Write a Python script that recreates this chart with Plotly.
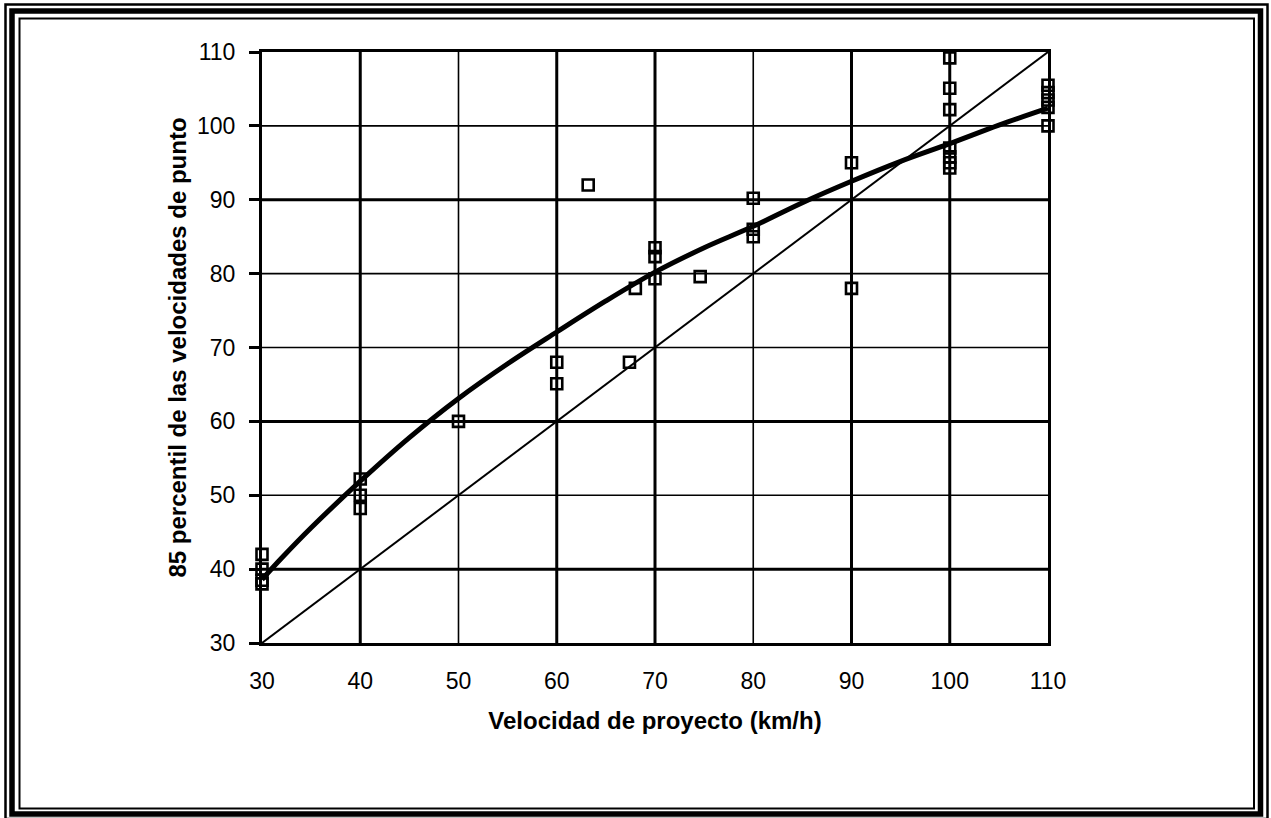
import plotly.graph_objects as go

# ---- data ----
obs_x = [30, 30, 30, 30, 40, 40, 40, 50, 60, 60, 63.2, 67.4, 68, 70, 70, 70,
         74.6, 80, 80, 80, 90, 90, 100, 100, 100, 100, 100, 100, 100,
         110, 110, 110, 110, 110]
obs_y = [42, 40, 38.5, 38, 52.2, 50, 48.2, 60, 68, 65.1, 92, 68, 78, 83.5, 82.3, 79.3,
         79.6, 90.2, 86, 85, 95, 78, 109.2, 105.1, 102.2, 97, 95.8, 95, 94.3,
         105.5, 104.5, 103.5, 102.5, 100]

fit_x = [30, 32, 35, 40, 45, 50, 55, 60, 65, 70, 75, 80, 85, 90, 95, 100, 105, 110]
fit_y = [38.6, 41.5, 45.6, 51.9, 57.8, 63.1, 67.8, 72.1, 76.3, 80.2, 83.5, 86.4,
         89.6, 92.5, 95.2, 97.6, 100.1, 102.4]

ident_x = [30, 110]
ident_y = [30, 110]

x_ticks = [30, 40, 50, 60, 70, 80, 90, 100, 110]
y_ticks = [30, 40, 50, 60, 70, 80, 90, 100, 110]

x_title = "Velocidad de proyecto (km/h)"
y_title = "85 percentil de las velocidades de punto"

# ---- styling ----
FONT = "Arial, Liberation Sans, sans-serif"
W, H = 1271, 818
ML, MR, MT, MB = 262, 223, 52, 175
PW, PH = W - ML - MR, H - MT - MB

thick_x = {40, 60, 70, 90, 100}
thick_y = {40, 60, 90}

fig = go.Figure()

fig.add_trace(go.Scatter(x=ident_x, y=ident_y, mode="lines",
                         line=dict(color="black", width=2), showlegend=False))
fig.add_trace(go.Scatter(x=fit_x, y=fit_y, mode="lines", line_shape="spline",
                         line=dict(color="black", width=5), showlegend=False))
fig.add_trace(go.Scatter(x=obs_x, y=obs_y, mode="markers",
                         marker=dict(symbol="square-open", size=11, color="black",
                                     line=dict(color="black", width=2.6)),
                         showlegend=False, cliponaxis=False))

shapes = []
for v in x_ticks[1:-1]:
    shapes.append(dict(type="line", xref="x", yref="paper", x0=v, x1=v, y0=0, y1=1,
                       line=dict(color="black", width=3 if v in thick_x else 1.6),
                       layer="below"))
for v in y_ticks[1:-1]:
    shapes.append(dict(type="line", xref="paper", yref="y", x0=0, x1=1, y0=v, y1=v,
                       line=dict(color="black", width=3 if v in thick_y else 1.6),
                       layer="below"))


def px_rect(x0, y0, x1, y1, w):
    return dict(type="rect", xref="paper", yref="paper",
                x0=(x0 - ML) / PW, x1=(x1 - ML) / PW,
                y0=1 - (y0 - MT) / PH, y1=1 - (y1 - MT) / PH,
                line=dict(color="black", width=w), fillcolor="rgba(0,0,0,0)",
                layer="above")


shapes.append(px_rect(5.5, 4.5, 1267.5, 819, 2.5))
shapes.append(px_rect(12, 11, 1260.5, 814, 5.5))
shapes.append(px_rect(19.5, 18.5, 1254, 808.5, 2))

fig.update_layout(
    width=W, height=H,
    margin=dict(l=ML, r=MR, t=MT, b=MB),
    paper_bgcolor="white", plot_bgcolor="white",
    font=dict(family=FONT, color="black", size=23),
    shapes=shapes,
    xaxis=dict(range=[30, 110], tickvals=x_ticks, ticktext=[str(v) for v in x_ticks],
               showgrid=False, zeroline=False, showline=True, linecolor="black",
               linewidth=3, mirror=True, ticks="", ticklabelstandoff=15,
               tickfont=dict(size=23, family=FONT),
               title=dict(text=x_title, font=dict(size=24, family=FONT, weight="bold"),
                          standoff=20)),
    yaxis=dict(range=[30, 110], tickvals=y_ticks, ticktext=[str(v) for v in y_ticks],
               showgrid=False, zeroline=False, showline=True, linecolor="black",
               linewidth=3, mirror=True, ticks="outside", ticklen=10, tickwidth=3,
               tickcolor="black", ticklabelstandoff=9,
               tickfont=dict(size=23, family=FONT),
               title=dict(text=y_title, font=dict(size=24, family=FONT, weight="bold"),
                          standoff=4)),
)

fig.write_html("out.html", config={"displayModeBar": False},
               post_script="document.body.style.margin='0';document.body.style.overflow='hidden';")
